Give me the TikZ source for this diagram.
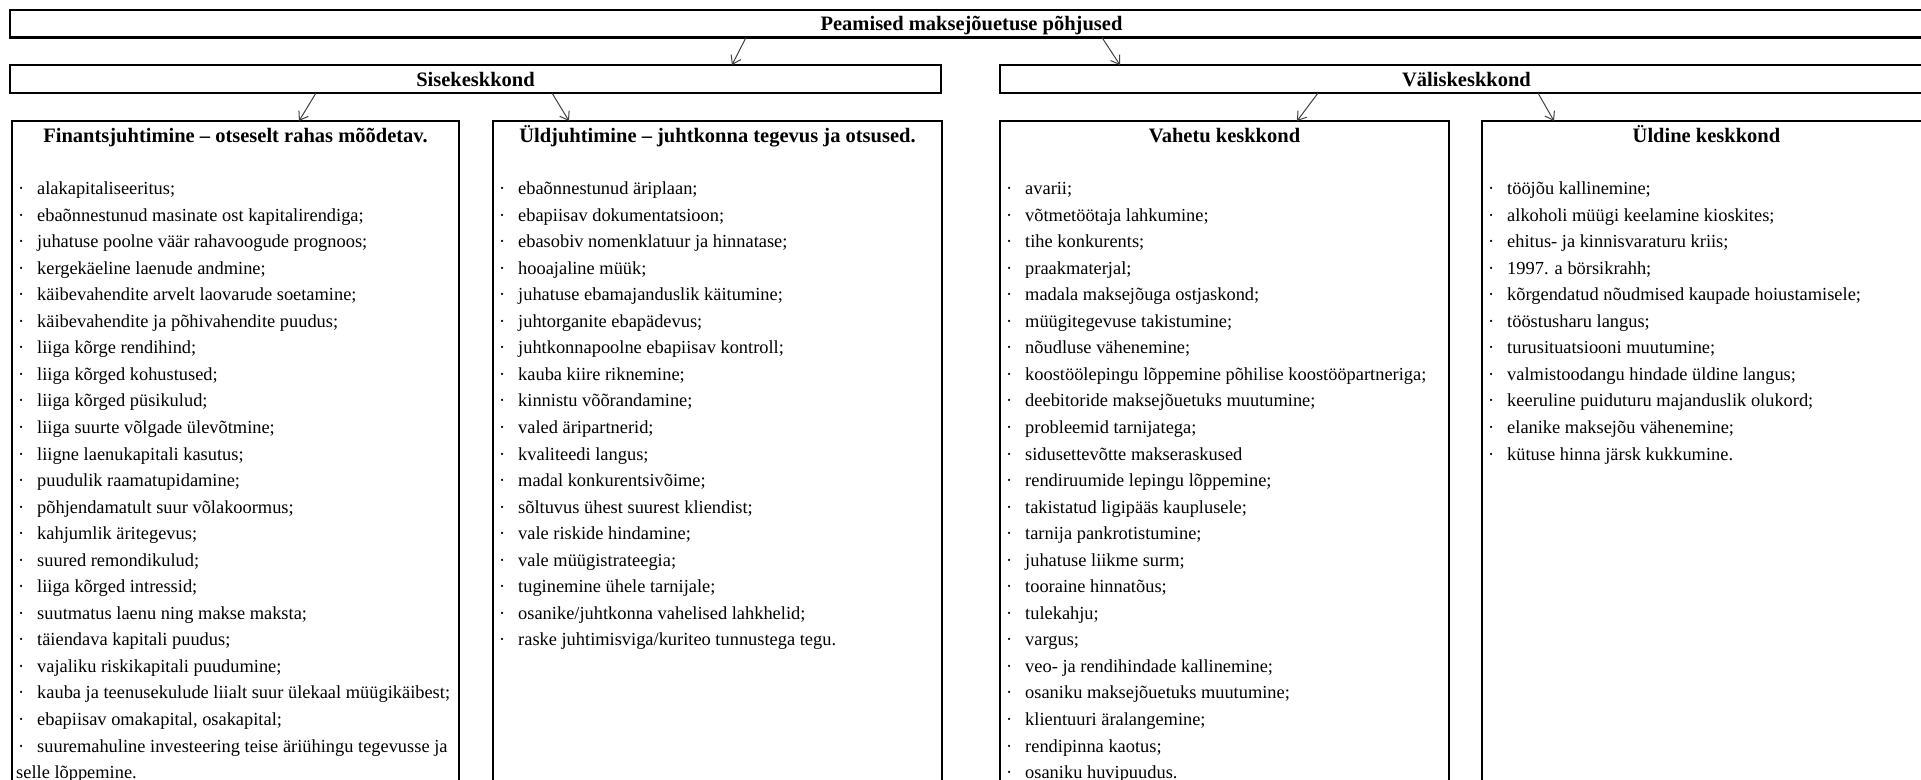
\documentclass[tikz,border=0pt]{standalone}
\usepackage{fontspec}
\setmainfont{Liberation Serif}
\usetikzlibrary{arrows.meta}
\tikzset{
  box/.style={draw, line width=2.2pt, inner sep=0pt, outer sep=0pt, anchor=north west},
  ttl/.style={font=\fontsize{20.5}{24}\selectfont\bfseries, anchor=base, inner sep=0pt},
  itm/.style={font=\fontsize{18.4}{22}\selectfont, anchor=base west, inner sep=0pt},
  arr/.style={-{Straight Barb[length=8pt,width=11pt]}, line width=1pt, black!75},
}
\newcommand{\drawlist}[3]{% #1 prefix, #2 box left x, #3 items
  \foreach [count=\i] \txt in {#3} {
    \pgfmathsetmacro\yy{194.5+(\i-1)*26.55}
    \node[itm] (#1b\i) at (#2+6,\yy) {·};
    \node[itm] (#1\i) at (#2+25,\yy) {\txt};
  }
}
\begin{document}
\begin{tikzpicture}[x=1pt,y=-1pt]
\useasboundingbox (0,0) rectangle (1921,779);
\clip (0,0) rectangle (1921,779);

% boxes
\node[box, minimum width=1923pt, minimum height=27.5pt] (top) at (10,10) {};
\node[box, minimum width=931pt, minimum height=28pt] (sise) at (10,65) {};
\node[box, minimum width=933pt, minimum height=28pt] (vali) at (1000,65) {};
\node[box, minimum width=447pt, minimum height=700pt] (fin) at (12,121) {};
\node[box, minimum width=449pt, minimum height=700pt] (uld) at (493,121) {};
\node[box, minimum width=449pt, minimum height=700pt] (vah) at (1000,121) {};
\node[box, minimum width=449pt, minimum height=700pt] (yld) at (1482,121) {};

% titles
\node[ttl] (ttop) at (971.5,30.5) {Peamised maksejõuetuse põhjused};
\node[ttl] (tsise) at (475.5,86.5) {Sisekeskkond};
\node[ttl] (tvali) at (1466.5,86.5) {Väliskeskkond};
\node[ttl] (tfin) at (235.5,142) {Finantsjuhtimine – otseselt rahas mõõdetav.};
\node[ttl] (tuld) at (717.5,142) {Üldjuhtimine – juhtkonna tegevus ja otsused.};
\node[ttl] (tvah) at (1224.5,142) {Vahetu keskkond};
\node[ttl] (tyld) at (1706.5,142) {Üldine keskkond};

% arrows
\draw[arr] ([xshift=-225.5pt]top.south) -- ([xshift=256.5pt]sise.north);
\draw[arr] ([xshift=130.5pt]top.south) -- ([xshift=-346.5pt]vali.north);
\draw[arr] ([xshift=-159.5pt]sise.south) -- ([xshift=63.5pt]fin.north);
\draw[arr] ([xshift=76.5pt]sise.south) -- ([xshift=-148.5pt]uld.north);
\draw[arr] ([xshift=-148.5pt]vali.south) -- ([xshift=72.5pt]vah.north);
\draw[arr] ([xshift=71.5pt]vali.south) -- ([xshift=-152.5pt]yld.north);

% lists
\drawlist{f}{12}{alakapitaliseeritus;,
 ebaõnnestunud masinate ost kapitalirendiga;,
 juhatuse poolne väär rahavoogude prognoos;,
 kergekäeline laenude andmine;,
 käibevahendite arvelt laovarude soetamine;,
 käibevahendite ja põhivahendite puudus;,
 liiga kõrge rendihind;,
 liiga kõrged kohustused;,
 liiga kõrged püsikulud;,
 liiga suurte võlgade ülevõtmine;,
 liigne laenukapitali kasutus;,
 puudulik raamatupidamine;,
 põhjendamatult suur võlakoormus;,
 kahjumlik äritegevus;,
 suured remondikulud;,
 liiga kõrged intressid;,
 suutmatus laenu ning makse maksta;,
 täiendava kapitali puudus;,
 vajaliku riskikapitali puudumine;,
 kauba ja teenusekulude liialt suur ülekaal müügikäibest;,
 {ebapiisav omakapital, osakapital;},
 suuremahuline investeering teise äriühingu tegevusse ja}
\node[itm] (f23) at (16,{194.5+22*26.55}) {selle lõppemine.};

\drawlist{u}{493}{ebaõnnestunud äriplaan;,
 ebapiisav dokumentatsioon;,
 ebasobiv nomenklatuur ja hinnatase;,
 hooajaline müük;,
 juhatuse ebamajanduslik käitumine;,
 juhtorganite ebapädevus;,
 juhtkonnapoolne ebapiisav kontroll;,
 kauba kiire riknemine;,
 kinnistu võõrandamine;,
 valed äripartnerid;,
 kvaliteedi langus;,
 madal konkurentsivõime;,
 sõltuvus ühest suurest kliendist;,
 vale riskide hindamine;,
 vale müügistrateegia;,
 tuginemine ühele tarnijale;,
 osanike/juhtkonna vahelised lahkhelid;,
 raske juhtimisviga/kuriteo tunnustega tegu.}

\drawlist{v}{1000}{avarii;,
 võtmetöötaja lahkumine;,
 tihe konkurents;,
 praakmaterjal;,
 madala maksejõuga ostjaskond;,
 müügitegevuse takistumine;,
 nõudluse vähenemine;,
 koostöölepingu lõppemine põhilise koostööpartneriga;,
 deebitoride maksejõuetuks muutumine;,
 probleemid tarnijatega;,
 sidusettevõtte makseraskused,
 rendiruumide lepingu lõppemine;,
 takistatud ligipääs kauplusele;,
 tarnija pankrotistumine;,
 juhatuse liikme surm;,
 tooraine hinnatõus;,
 tulekahju;,
 vargus;,
 veo- ja rendihindade kallinemine;,
 osaniku maksejõuetuks muutumine;,
 klientuuri äralangemine;,
 rendipinna kaotus;,
 osaniku huvipuudus.}

\drawlist{y}{1482}{tööjõu kallinemine;,
 alkoholi müügi keelamine kioskites;,
 ehitus- ja kinnisvaraturu kriis;,
 1997. a börsikrahh;,
 kõrgendatud nõudmised kaupade hoiustamisele;,
 tööstusharu langus;,
 turusituatsiooni muutumine;,
 valmistoodangu hindade üldine langus;,
 keeruline puiduturu majanduslik olukord;,
 elanike maksejõu vähenemine;,
 kütuse hinna järsk kukkumine.}
\end{tikzpicture}
\end{document}
